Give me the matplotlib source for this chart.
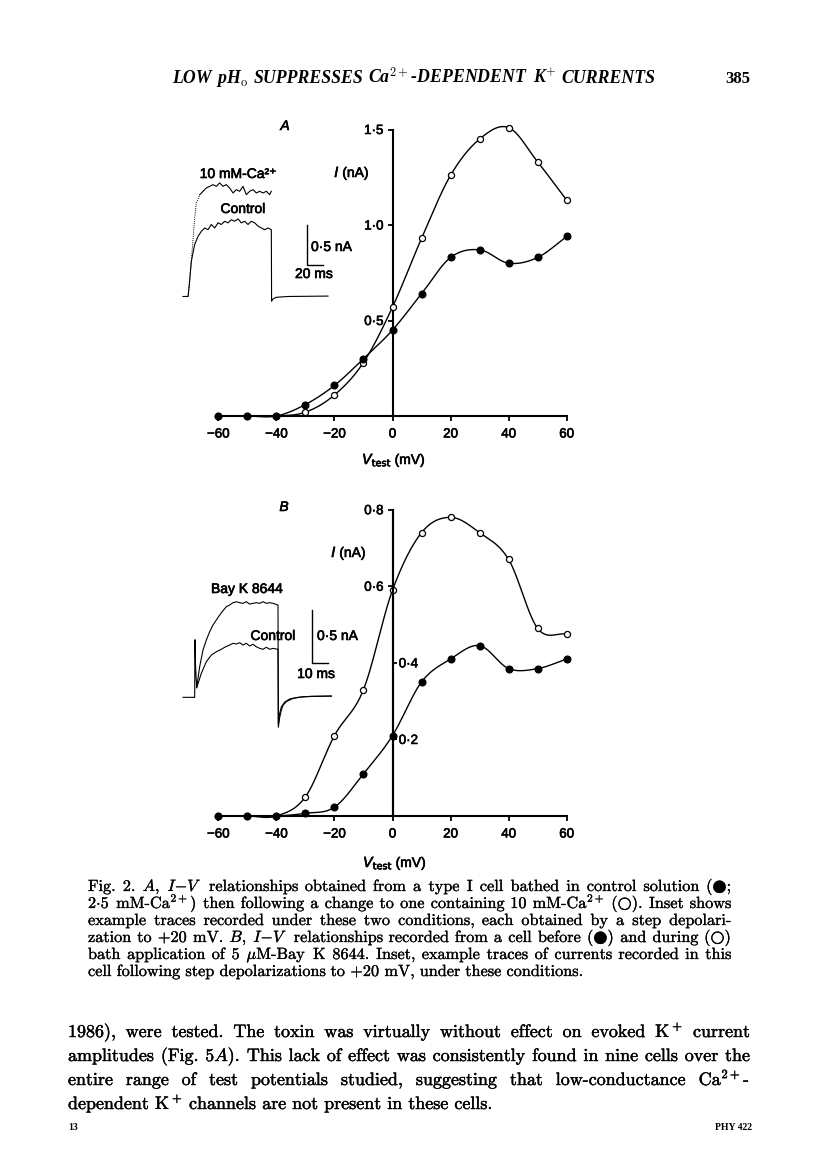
import numpy as np
import matplotlib
matplotlib.use("Agg")
import matplotlib.pyplot as plt
from matplotlib import patheffects as pe

W, H = 816, 1172

# ---------------- data: I-V relationships ----------------
v_test = [-60, -50, -40, -30, -20, -10, 0, 10, 20, 30, 40, 50, 60]
a_control_nA = [0, 0, 0, 0.06, 0.16, 0.30, 0.45, 0.64, 0.83, 0.87, 0.80, 0.83, 0.94]
a_ca10_nA = [0, 0, 0, 0.02, 0.11, 0.28, 0.57, 0.93, 1.26, 1.45, 1.51, 1.33, 1.13]
b_control_nA = [0, 0, 0, 0.007, 0.023, 0.11, 0.21, 0.35, 0.41, 0.445, 0.385, 0.385, 0.41]
b_bayk_nA = [0, 0, 0, 0.05, 0.21, 0.33, 0.59, 0.74, 0.78, 0.74, 0.67, 0.49, 0.475]

x_ticks = [-60, -40, -20, 0, 20, 40, 60]
x_ticklabels = ["\u221260", "\u221240", "\u221220", "0", "20", "40", "60"]
a_yticks = [0.5, 1.0, 1.5]
a_yticklabels = ["0\u00b75", "1\u00b70", "1\u00b75"]
b_yticks_left = [0.6, 0.8]
b_yticklabels_left = ["0\u00b76", "0\u00b78"]
b_yticks_right = [0.2, 0.4]
b_yticklabels_right = ["0\u00b72", "0\u00b74"]

# ---------------- data: inset current traces (ms, nA) ----------------
insA_ctrl_t = [-6, 0, 0.3, 1.2, 4, 8, 12, 16, 20, 24, 28, 32, 36, 40, 44, 48, 52, 56, 60,
               64, 68, 72, 76, 80, 84, 88, 92, 96, 100, 100.3, 102, 106, 120, 168]
insA_ctrl_i = [0, 0, 0.02, 0.106, 0.44, 0.65, 0.75, 0.815, 0.856, 0.835, 0.90, 0.856, 0.92,
               0.90, 0.94, 0.92, 0.96, 0.94, 0.97, 0.92, 0.94, 0.90, 0.94, 0.92, 0.88, 0.856,
               0.835, 0.856, 0.835, -0.06, -0.03, -0.01, 0.0, 0.005]
insA_ca_rise_t = [0, 2, 4, 8, 10, 12, 14]
insA_ca_rise_i = [0, 0.2, 0.44, 0.98, 1.17, 1.21, 1.27]
insA_ca_t = [14, 18, 22, 26, 30, 34, 38, 42, 46, 50, 54, 58, 62, 66, 70, 74, 78, 82, 86, 90,
             94, 98, 100]
insA_ca_i = [1.27, 1.315, 1.356, 1.377, 1.398, 1.377, 1.419, 1.377, 1.398, 1.356, 1.294,
             1.335, 1.315, 1.377, 1.273, 1.315, 1.335, 1.294, 1.315, 1.294, 1.315, 1.273, 1.315]

insB_ctrl_t = [-7, 0, 0.2, 0.5, 1.2, 4, 7, 10, 13, 16, 18, 21, 23, 25, 27, 29, 31, 33, 35, 37,
               39, 41, 43, 45, 47, 50, 50.2, 51, 52, 54, 57, 62, 70, 82]
insB_ctrl_i = [0, 0, 0.54, 0.30, 0.09, 0.225, 0.334, 0.396, 0.427, 0.45, 0.469, 0.49, 0.506,
               0.50, 0.512, 0.49, 0.506, 0.481, 0.497, 0.474, 0.459, 0.45, 0.469, 0.45, 0.459,
               0.45, -0.25, -0.15, -0.09, -0.045, -0.015, 0.0, 0.01, 0.012]
insB_bay_t = [1.2, 3, 5, 7, 9, 11, 13, 15, 17, 19, 21, 23, 25, 27, 29, 31, 33, 35, 37, 39, 41,
              43, 45, 47, 50, 50.2, 51, 52, 53, 55, 59, 65, 82]
insB_bay_i = [0.09, 0.287, 0.443, 0.537, 0.615, 0.678, 0.725, 0.771, 0.812, 0.85, 0.865, 0.887,
              0.896, 0.887, 0.881, 0.896, 0.874, 0.881, 0.887, 0.881, 0.896, 0.881, 0.887,
              0.881, 0.865, -0.28, -0.19, -0.12, -0.075, -0.04, -0.01, 0.006, 0.012]

# ---------------- text ----------------
header_words = r"LOW pH$_{\mathrm{o}}$ SUPPRESSES Ca$^{2+}$-DEPENDENT K$^{+}$ CURRENTS"
page_number = "385"
caption_lines = [
    r"Fig. 2. $A$, $I{-}V$ relationships obtained from a type I cell bathed in control solution (●;",
    r"2$\cdot$5 mM-Ca$^{2+}$) then following a change to one containing 10 mM-Ca$^{2+}$ (○). Inset shows",
    r"example traces recorded under these two conditions, each obtained by a step depolari-",
    r"zation to +20 mV. $B$, $I{-}V$ relationships recorded from a cell before (●) and during (○)",
    r"bath application of 5 $\mu$M-Bay K 8644. Inset, example traces of currents recorded in this",
    r"cell following step depolarizations to +20 mV, under these conditions.",
]
body_lines = [
    r"1986), were tested. The toxin was virtually without effect on evoked K$^+$ current",
    r"amplitudes (Fig. 5$A$). This lack of effect was consistently found in nine cells over the",
    r"entire range of test potentials studied, suggesting that low-conductance Ca$^{2+}$-",
    r"dependent K$^+$ channels are not present in these cells.",
]

# ---------------- setup ----------------
plt.rcParams["mathtext.fontset"] = "cm"
SANS = ["Liberation Sans", "DejaVu Sans"]
SERIF = ["cmr10", "DejaVu Serif"]
heavy = [pe.withStroke(linewidth=0.45, foreground="black")]
heavy_cap = [pe.withStroke(linewidth=0.2, foreground="black")]
heavy_body = [pe.withStroke(linewidth=0.3, foreground="black")]

fig = plt.figure(figsize=(W / 100, H / 100), dpi=100)
fig.patch.set_facecolor("white")
renderer = fig.canvas.get_renderer()


def fx(x):
    return x / W


def fy(y):
    return 1 - y / H


def smooth(x, y, n=24):
    x = np.asarray(x, float)
    y = np.asarray(y, float)
    m = np.gradient(y, x)
    xs, ys = [], []
    for i in range(len(x) - 1):
        h = x[i + 1] - x[i]
        s = np.linspace(0, 1, n, endpoint=False)
        h00 = 2 * s**3 - 3 * s**2 + 1
        h10 = s**3 - 2 * s**2 + s
        h01 = -2 * s**3 + 3 * s**2
        h11 = s**3 - s**2
        xs.append(x[i] + s * h)
        ys.append(h00 * y[i] + h10 * h * m[i] + h01 * y[i + 1] + h11 * h * m[i + 1])
    xs.append([x[-1]])
    ys.append([y[-1]])
    return np.concatenate(xs), np.concatenate(ys)


def iv_axes(top_px, zero_px, ymax):
    ax = fig.add_axes([fx(218.3), fy(zero_px), (566.7 - 218.3) / W, (zero_px - top_px) / H])
    ax.set_xlim(-60, 60)
    ax.set_ylim(0, ymax)
    ax.patch.set_visible(False)
    for s in ["top", "right"]:
        ax.spines[s].set_visible(False)
    ax.spines["left"].set_position(("data", 0))
    for s in ["left", "bottom"]:
        ax.spines[s].set_linewidth(1.5)
    ax.set_xticks(x_ticks)
    ax.set_xticklabels(x_ticklabels)
    ax.tick_params(axis="x", direction="out", length=3.5, width=1.3, pad=5.5, labelsize=9.6)
    ax.tick_params(axis="y", direction="out", length=3.6, width=1.3, pad=2.8, labelsize=9.6)
    for lbl in ax.get_xticklabels():
        lbl.set_family(SANS)
        lbl.set_path_effects(heavy)
    return ax


def plot_iv(ax, y, filled):
    xs, ys = smooth(v_test, y)
    ax.plot(xs, ys, color="black", lw=1.0, zorder=3, clip_on=False)
    if filled:
        ax.plot(v_test, y, "o", ms=4.8, mfc="black", mec="black", zorder=5, clip_on=False)
    else:
        ax.plot(v_test, y, "o", ms=4.4, mfc="white", mec="black", mew=0.9, zorder=5,
                clip_on=False)


def stext(x, y, s, size=10, ha="center", va="center", **kw):
    t = fig.text(fx(x), fy(y), s, fontsize=size, ha=ha, va=va, family=SANS,
                 math_fontfamily="dejavusans", **kw)
    t.set_path_effects(heavy)
    return t


# ---------------- panel A ----------------
axA = iv_axes(129.5, 416, 1.5)
axA.set_yticks(a_yticks)
axA.set_yticklabels(a_yticklabels)
for lbl in axA.get_yticklabels():
    lbl.set_family(SANS)
    lbl.set_path_effects(heavy)
plot_iv(axA, a_ca10_nA, False)
plot_iv(axA, a_control_nA, True)
stext(285, 126, "A", size=10, style="italic")
stext(352, 173, r"$I$ (nA)", size=10)
stext(394, 460, r"$V_{\mathrm{test}}$ (mV)", size=10)

# inset A
insA = fig.add_axes([fx(180), fy(310), 150 / W, 140 / H])
insA.set_xlim(-9.6, 170.4)
insA.set_ylim(-0.169, 1.581)
insA.axis("off")
insA.plot(insA_ctrl_t, insA_ctrl_i, color="black", lw=0.8)
insA.plot(insA_ca_rise_t, insA_ca_rise_i, color="black", lw=0.7, ls=(0, (1, 1.2)))
insA.plot(insA_ca_t, insA_ca_i, color="black", lw=0.8)
insA.plot([142.5, 142.5, 162.5], [0.894, 0.394, 0.394], color="black", lw=1.0)
stext(238, 174, "10 mM-Ca\u00b2\u207a", size=10)
stext(243, 209, "Control", size=10)
stext(311, 247, "0\u00b75 nA", size=10, ha="left")
stext(314, 274, "20 ms", size=10)

# ---------------- panel B ----------------
axB = iv_axes(509.7, 816, 0.8)
axB.set_yticks(b_yticks_left)
axB.set_yticklabels(b_yticklabels_left)
for lbl in axB.get_yticklabels():
    lbl.set_family(SANS)
    lbl.set_path_effects(heavy)
axB2 = axB.twinx()
axB2.set_ylim(0, 0.8)
axB2.patch.set_visible(False)
for s in ["top", "left", "bottom"]:
    axB2.spines[s].set_visible(False)
axB2.spines["right"].set_position(("data", 0))
axB2.spines["right"].set_linewidth(1.5)
axB2.set_yticks(b_yticks_right)
axB2.set_yticklabels(b_yticklabels_right)
axB2.tick_params(axis="y", direction="out", length=3.0, width=1.3, pad=1.5, labelsize=9.6)
for lbl in axB2.get_yticklabels():
    lbl.set_family(SANS)
    lbl.set_path_effects(heavy)
plot_iv(axB, b_bayk_nA, False)
plot_iv(axB, b_control_nA, True)
stext(284, 507, "B", size=10, style="italic")
stext(349, 553, r"$I$ (nA)", size=10)
stext(395, 863, r"$V_{\mathrm{test}}$ (mV)", size=10)

# inset B
insB = fig.add_axes([fx(180), fy(735), 160 / W, 155 / H])
insB.set_xlim(-8.8, 87.2)
insB.set_ylim(-0.353, 1.0996)
insB.axis("off")
insB.plot(insB_ctrl_t, insB_ctrl_i, color="black", lw=0.8)
insB.plot(insB_bay_t, insB_bay_i, color="black", lw=0.8)
insB.plot([70.2, 70.2, 80.2], [0.818, 0.319, 0.319], color="black", lw=1.0)
stext(247, 589, "Bay K 8644", size=10)
stext(273, 636, "Control", size=10)
stext(317, 636, "0\u00b75 nA", size=10, ha="left")
stext(316, 674, "10 ms", size=10)


# ---------------- page text ----------------
def measure(words, size, **kw):
    ts = [fig.text(0, 0, w, fontsize=size, **kw) for w in words]
    ws = [t.get_window_extent(renderer).width for t in ts]
    for t in ts:
        t.remove()
    a = fig.text(0, 0, "a", fontsize=size, **kw)
    aa = fig.text(0, 0, "a a", fontsize=size, **kw)
    sp = aa.get_window_extent(renderer).width - 2 * a.get_window_extent(renderer).width
    a.remove()
    aa.remove()
    return ws, sp


def fit_size(lines, x0, x1, justified_flags, slack=0.985, **kw):
    ratios = []
    for s, j in zip(lines, justified_flags):
        if not j:
            continue
        ws, sp = measure(s.split(" "), 10, **kw)
        nat = sum(ws) + sp * (len(ws) - 1)
        ratios.append((x1 - x0) / nat)
    return 10 * min(ratios) * slack


def draw_line(s, x0, x1, yb, size, justify, effects=None, **kw):
    words = s.split(" ")
    ws, sp = measure(words, size, **kw)
    gap = (x1 - x0 - sum(ws)) / (len(words) - 1) if (justify and len(words) > 1) else sp
    x = x0
    for w, wd in zip(words, ws):
        t = fig.text(fx(x), fy(yb), w, fontsize=size, ha="left", va="baseline", **kw)
        if effects:
            t.set_path_effects(effects)
        x += wd + gap


serif_kw = dict(family=SERIF, math_fontfamily="cm")

# header (natural word spacing, ending at the right edge of the running head)
hdr_kw = dict(family=["Liberation Serif", "DejaVu Serif"], style="italic", weight="bold",
              math_fontfamily="cm")
hdr_size = fit_size([header_words], 172, 655, [True], slack=1.0, **hdr_kw)
draw_line(header_words, 172, 655, 83, hdr_size, True, **hdr_kw)
fig.text(fx(750), fy(83), page_number, fontsize=12, ha="right", va="baseline",
         family=["Liberation Serif"], weight="bold")

# caption
cap_flags = [True] * (len(caption_lines) - 1) + [False]
cap_size = fit_size(caption_lines, 88, 731, cap_flags, **serif_kw)
for k, (s, j) in enumerate(zip(caption_lines, cap_flags)):
    draw_line(s, 88, 731, 891 + 17 * k, cap_size, j, effects=heavy_cap, **serif_kw)

# body
body_flags = [True] * (len(body_lines) - 1) + [False]
body_size = fit_size(body_lines, 68, 750, body_flags, **serif_kw)
for k, (s, j) in enumerate(zip(body_lines, body_flags)):
    draw_line(s, 68, 750, 1037 + 24 * k, body_size, j, effects=heavy_body, **serif_kw)

# footer
fig.text(fx(68), fy(1130), "13", fontsize=7, ha="left", va="baseline",
         family=["Liberation Serif"], weight="bold")
fig.text(fx(752), fy(1130), "PHY 422", fontsize=7, ha="right", va="baseline",
         family=["Liberation Serif"], weight="bold")

fig.savefig("out.png", dpi=100, facecolor="white")
